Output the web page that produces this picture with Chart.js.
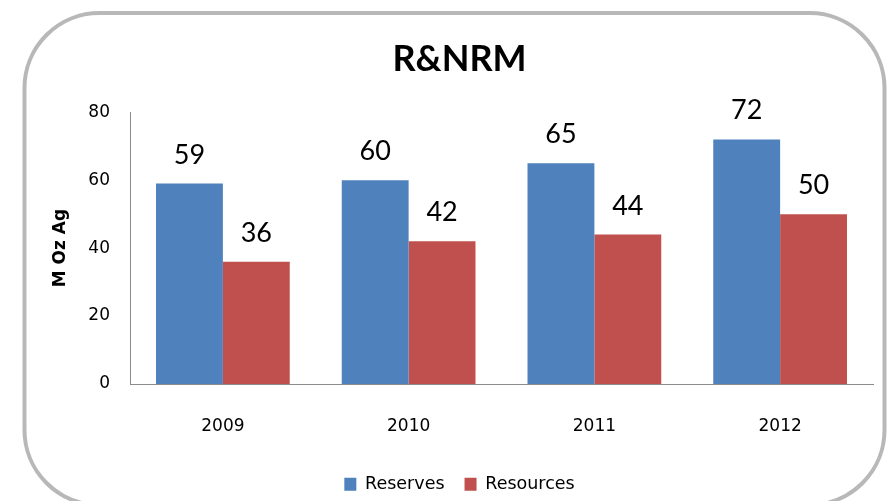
<!DOCTYPE html>
<html>
<head>
<meta charset="utf-8">
<script src="https://cdn.jsdelivr.net/npm/chart.js@4/dist/chart.umd.min.js"></script>
<style>
	html, body { margin: 0; padding: 0; background: #fff; }
	#wrap { width: 888px; height: 501px; }
</style>
</head>
<body>
<div id="wrap"><canvas id="chart"></canvas></div>
<script>
const years = [ '2009', '2010', '2011', '2012' ];
const reserves = [ 59, 60, 65, 72 ];
const resources = [ 36, 42, 44, 50 ];
const yTicks = [ 0, 20, 40, 60, 80 ];

// rounded grey frame behind the chart
const frame = {
	id: 'frame',
	beforeDraw( chart ) {
		const ctx = chart.ctx;
		ctx.save();
		ctx.fillStyle = '#fff';
		ctx.fillRect( 0, 0, chart.width, chart.height );
		ctx.beginPath();
		ctx.roundRect( 24.5, 13, 860, 492, 75 );
		ctx.lineWidth = 4;
		ctx.strokeStyle = '#b8b8b8';
		ctx.stroke();
		ctx.restore();
	},
};

// value labels above bars
const barValues = {
	id: 'barValues',
	afterDatasetsDraw( chart ) {
		const ctx = chart.ctx;
		ctx.save();
		ctx.font = '27px Lato';
		ctx.fillStyle = '#000';
		ctx.textAlign = 'center';
		ctx.textBaseline = 'alphabetic';
		chart.data.datasets.forEach( ( ds, i ) => {
			chart.getDatasetMeta( i ).data.forEach( ( bar, j ) => {
				ctx.fillText( String( ds.data[ j ] ), bar.x, bar.y - 20 );
			} );
		} );
		ctx.restore();
	},
};

new Chart( document.getElementById( 'chart' ), {
	type: 'bar',
	data: {
		labels: years,
		datasets: [
			{
				label: 'Reserves',
				data: reserves,
				backgroundColor: '#4F81BD',
				categoryPercentage: 0.72,
				barPercentage: 1,
			},
			{
				label: 'Resources',
				data: resources,
				backgroundColor: '#C0504D',
				categoryPercentage: 0.72,
				barPercentage: 1,
			},
		],
	},
	options: {
		responsive: true,
		maintainAspectRatio: false,
		animation: false,
		layout: { padding: { left: 46, right: 15, top: 0, bottom: -2 } },
		plugins: {
			title: {
				display: true,
				text: 'R&NRM',
				color: '#000',
				font: { family: 'Lato', size: 36, weight: 'bold' },
				padding: { top: 38, bottom: 31 },
			},
			legend: {
				position: 'bottom',
				labels: {
					color: '#000',
					font: { family: 'DejaVu Sans', size: 17.5 },
					boxWidth: 12,
					boxHeight: 13,
					padding: 20,
				},
			},
			tooltip: { enabled: false },
		},
		scales: {
			x: {
				grid: { display: false },
				border: { display: true, color: '#8c8c8c', width: 1 },
				ticks: {
					color: '#000',
					font: { family: 'DejaVu Sans', size: 17 },
					padding: 24,
				},
				afterFit: ( scale ) => {
					scale.height = 71.5;
				},
			},
			y: {
				min: 0,
				max: 80,
				grid: { display: false, drawTicks: false },
				border: { display: true, color: '#8c8c8c', width: 1 },
				afterBuildTicks: ( scale ) => {
					scale.ticks = yTicks.map( ( v ) => ( { value: v } ) );
				},
				ticks: {
					color: '#000',
					font: { family: 'DejaVu Sans', size: 17 },
					padding: 20,
				},
				title: {
					display: true,
					text: 'M Oz Ag',
					color: '#000',
					font: { family: 'DejaVu Sans', size: 17, weight: 'bold' },
					padding: { top: 4, bottom: 4 },
				},
				afterFit: ( scale ) => {
					scale.width = 84;
				},
			},
		},
	},
	plugins: [ frame, barValues ],
} );
</script>
</body>
</html>
